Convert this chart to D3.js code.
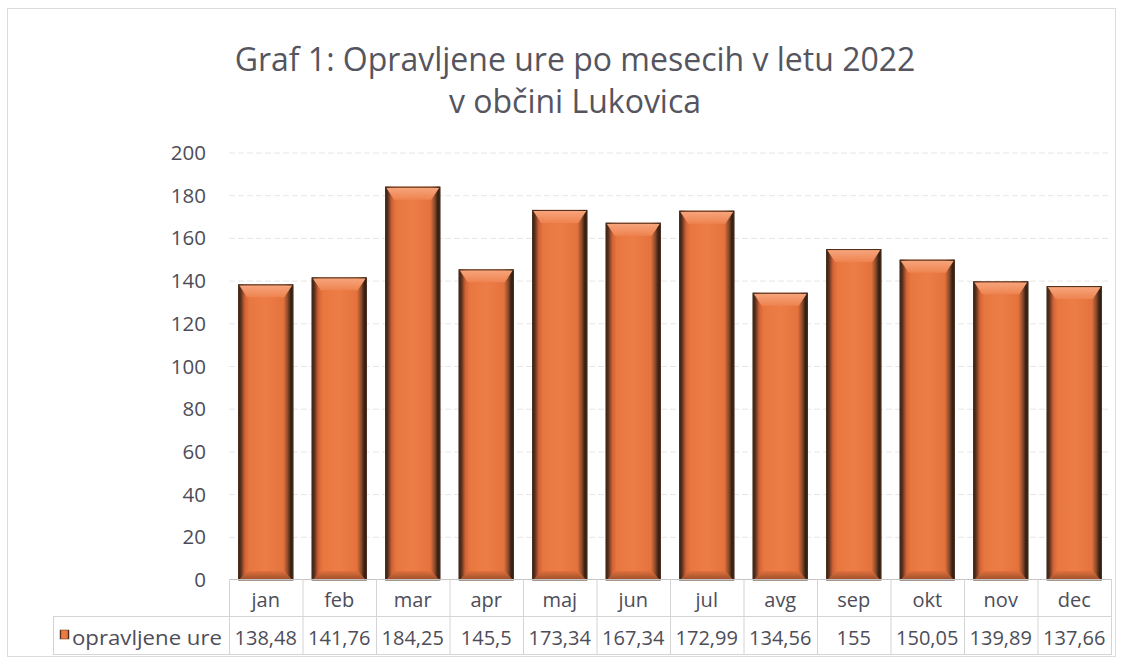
<!DOCTYPE html>
<html><head><meta charset="utf-8">
<script src="https://cdn.jsdelivr.net/npm/d3@7"></script>
<style>body{margin:0;background:#fff}svg{display:block}</style>
</head><body>
<svg id="c" width="1127" height="661"></svg>
<script>
const months = ["jan","feb","mar","apr","maj","jun","jul","avg","sep","okt","nov","dec"];
const values = [138.48,141.76,184.25,145.5,173.34,167.34,172.99,134.56,155,150.05,139.89,137.66];
const valueLabels = ["138,48","141,76","184,25","145,5","173,34","167,34","172,99","134,56","155","150,05","139,89","137,66"];
const yTicks = [0,20,40,60,80,100,120,140,160,180,200];
const seriesName = "opravljene ure";
const titleLines = ["Graf 1: Opravljene ure po mesecih v letu 2022","v občini Lukovica"];

const svg = d3.select("#c");
const font = "'Open Sans', 'Liberation Sans', sans-serif";
const textCol = "#4d4d59";
const L = 229, R = 1111, T = 153, B = 580;

const x = d3.scaleBand().domain(months).range([L, R]).paddingInner(0.25).paddingOuter(0.125);
const y = d3.scaleLinear().domain([0, 200]).range([B, T]);

// outer border
svg.append("rect").attr("x",7.5).attr("y",8.5).attr("width",1108).attr("height",648)
  .attr("fill","none").attr("stroke","#dcdcdc");

// title
svg.append("g").selectAll("text").data(titleLines).join("text")
  .attr("x",575).attr("y",(d,i)=>71+i*42).attr("text-anchor","middle")
  .attr("font-family",font).attr("font-size",32).attr("fill","#555560").text(d=>d);

// gridlines
svg.append("g").selectAll("line").data(yTicks.filter(d=>d>0)).join("line")
  .attr("x1",L).attr("x2",R).attr("y1",d=>y(d)).attr("y2",d=>y(d))
  .attr("stroke","#e6e6e6").attr("stroke-dasharray","6,3");

// y axis labels
const yAxis = d3.axisLeft(y).tickValues(yTicks).tickSize(0).tickPadding(0);
const ya = svg.append("g").attr("transform",`translate(${206},0)`).call(yAxis);
ya.select(".domain").remove();
ya.selectAll("text").attr("font-family",font).attr("font-size",20.5).attr("fill",textCol);

// bar gradients
const defs = svg.append("defs");
const gH = defs.append("linearGradient").attr("id","gh").attr("x1",0).attr("x2",1).attr("y1",0).attr("y2",0);
[[0,"#2e1c12"],[0.05,"#5a321e"],[0.12,"#d06236"],[0.2,"#e8763f"],[0.5,"#ed7d47"],[0.82,"#e4723d"],[0.9,"#8a4a2a"],[0.95,"#3c2416"],[1,"#2a1a10"]]
  .forEach(([o,c])=>gH.append("stop").attr("offset",o).attr("stop-color",c));
const gT = defs.append("linearGradient").attr("id","gt").attr("x1",0).attr("x2",0).attr("y1",0).attr("y2",1);
[[0,"#f7a57c"],[1,"#ee8350"]].forEach(([o,c])=>gT.append("stop").attr("offset",o).attr("stop-color",c));
const gB = defs.append("linearGradient").attr("id","gb").attr("x1",0).attr("x2",0).attr("y1",0).attr("y2",1);
[[0,"#e0703c"],[1,"#9a4e2c"]].forEach(([o,c])=>gB.append("stop").attr("offset",o).attr("stop-color",c));

const bars = svg.append("g").selectAll("g").data(months).join("g");
bars.append("rect").attr("x",d=>x(d)).attr("width",x.bandwidth())
  .attr("y",(d,i)=>y(values[i])).attr("height",(d,i)=>B-y(values[i]))
  .attr("fill","url(#gh)");
// top bevel
bars.append("path").attr("d",(d,i)=>{
  const x0=x(d)+1, x1=x(d)+x.bandwidth()-1, yt=y(values[i])+1;
  return `M${x0},${yt}L${x1},${yt}L${x1-8},${yt+12}L${x0+8},${yt+12}Z`;
}).attr("fill","url(#gt)");
// bottom bevel
bars.append("path").attr("d",(d,i)=>{
  const x0=x(d)+1, x1=x(d)+x.bandwidth()-1;
  return `M${x0},${B}L${x1},${B}L${x1-8},${B-9}L${x0+8},${B-9}Z`;
}).attr("fill","url(#gb)");
bars.append("rect").attr("x",d=>x(d)+0.5).attr("width",x.bandwidth()-1)
  .attr("y",(d,i)=>y(values[i])+0.5).attr("height",(d,i)=>B-y(values[i])-0.5)
  .attr("fill","none").attr("stroke","#4a2c1a").attr("stroke-width",1);

// data table
const step = x.step();
const tbl = svg.append("g").attr("stroke","#d4d4d4").attr("fill","none");
tbl.append("line").attr("x1",L).attr("x2",R).attr("y1",579.5).attr("y2",579.5).attr("stroke","#c4c4c4");
tbl.append("line").attr("x1",53).attr("x2",R).attr("y1",616.5).attr("y2",616.5);
tbl.append("line").attr("x1",53).attr("x2",R).attr("y1",654.5).attr("y2",654.5);
tbl.append("line").attr("x1",53.5).attr("x2",53.5).attr("y1",616).attr("y2",655);
tbl.selectAll(".v").data(d3.range(13)).join("line")
  .attr("x1",i=>L+i*step+0.5).attr("x2",i=>L+i*step+0.5).attr("y1",579).attr("y2",655);

svg.append("g").selectAll("text").data(months).join("text")
  .attr("x",d=>x(d)+x.bandwidth()/2).attr("y",607).attr("text-anchor","middle")
  .attr("font-family",font).attr("font-size",20).attr("fill",textCol).text(d=>d);
svg.append("g").selectAll("text").data(valueLabels).join("text")
  .attr("x",(d,i)=>x(months[i])+x.bandwidth()/2).attr("y",645).attr("text-anchor","middle")
  .attr("font-family",font).attr("font-size",20).attr("fill",textCol).text(d=>d);

// legend key + series name
svg.append("rect").attr("x",60).attr("y",630).attr("width",9).attr("height",9).attr("fill","url(#gh)").attr("stroke","#5a3020").attr("stroke-width",0.5);
svg.append("text").attr("x",72).attr("y",645).attr("font-family",font).attr("font-size",20)
  .attr("textLength",150).attr("lengthAdjust","spacingAndGlyphs")
  .attr("fill",textCol).text(seriesName);
</script>
</body></html>
